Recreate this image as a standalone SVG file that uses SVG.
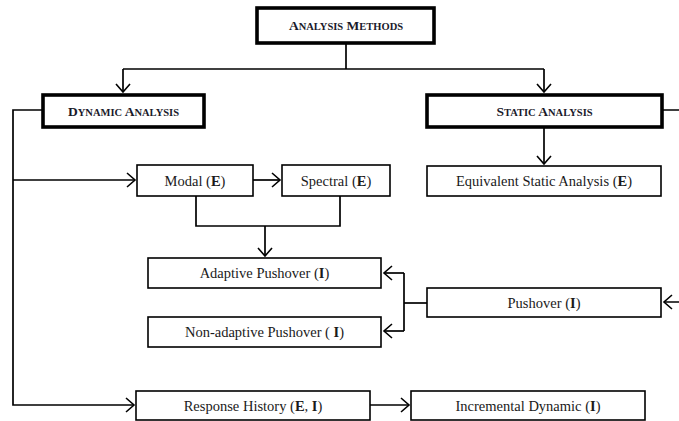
<svg xmlns="http://www.w3.org/2000/svg" width="679" height="421" viewBox="0 0 679 421">
<style>
.bg{fill:#ffffff}
.thick{fill:#ffffff;stroke:#000;stroke-width:3.6}
.box{fill:#ffffff;stroke:#000;stroke-width:1.6}
.ln{fill:none;stroke:#000;stroke-width:1.7}
.hd{font-family:"Liberation Serif","Times New Roman",serif;font-weight:bold;fill:#1a1a2a;text-anchor:middle;font-size:13.5px}
.hd .s{font-size:10.5px}
.lb{font-family:"Liberation Serif","Times New Roman",serif;fill:#1a1a1a;text-anchor:middle;font-size:14.5px}
.lb .b{font-weight:bold}
</style>
<defs>
<marker id="arr" markerUnits="userSpaceOnUse" markerWidth="12" markerHeight="16" refX="9" refY="7.5" orient="auto" overflow="visible">
<path d="M1,0.5 L9,7.5 L1,14.5" fill="none" stroke="#000" stroke-width="1.6"/>
</marker>
</defs>
<rect class="bg" x="0" y="0" width="679" height="421"/>

<g id="connectors">
<path class="ln" d="M346,43 V69"/>
<path class="ln" d="M123,69 H544"/>
<path class="ln" d="M123,69 V92" marker-end="url(#arr)"/>
<path class="ln" d="M544,69 V92" marker-end="url(#arr)"/>
<path class="ln" d="M43,110 H13 V405 H134" marker-end="url(#arr)"/>
<path class="ln" d="M13,180 H135" marker-end="url(#arr)"/>
<path class="ln" d="M253,180 H280" marker-end="url(#arr)"/>
<path class="ln" d="M544,127 V164" marker-end="url(#arr)"/>
<path class="ln" d="M196,196 V226 H340 V196"/>
<path class="ln" d="M265,226 V256" marker-end="url(#arr)"/>
<path class="ln" d="M427,303 H404"/>
<path class="ln" d="M404,273 V331"/>
<path class="ln" d="M404,273 H384" marker-end="url(#arr)"/>
<path class="ln" d="M404,331 H384" marker-end="url(#arr)"/>
<path class="ln" d="M662,110 H692 V302 H664" marker-end="url(#arr)"/>
<path class="ln" d="M370,405 H409" marker-end="url(#arr)"/>
</g>

<g id="analysis-methods">
<rect class="thick" x="257" y="8" width="177" height="35"/>
<text class="hd" x="346" y="30">A<tspan class="s">NALYSIS</tspan> M<tspan class="s">ETHODS</tspan></text>
</g>

<g id="dynamic-analysis">
<rect class="thick" x="43" y="95" width="161" height="32"/>
<text class="hd" x="123.5" y="115.5">D<tspan class="s">YNAMIC</tspan> A<tspan class="s">NALYSIS</tspan></text>
</g>

<g id="static-analysis">
<rect class="thick" x="427" y="95" width="235" height="32"/>
<text class="hd" x="544.5" y="115.5">S<tspan class="s">TATIC</tspan> A<tspan class="s">NALYSIS</tspan></text>
</g>

<g id="modal">
<rect class="box" x="137" y="165" width="116" height="31"/>
<text class="lb" x="195" y="185.5">Modal (<tspan class="b">E</tspan>)</text>
</g>

<g id="spectral">
<rect class="box" x="282" y="165" width="108" height="31"/>
<text class="lb" x="336" y="185.5">Spectral (<tspan class="b">E</tspan>)</text>
</g>

<g id="equivalent-static">
<rect class="box" x="427" y="166" width="234" height="30"/>
<text class="lb" x="544" y="186">Equivalent Static Analysis (<tspan class="b">E</tspan>)</text>
</g>

<g id="adaptive-pushover">
<rect class="box" x="148" y="258" width="233" height="30"/>
<text class="lb" x="264.5" y="278">Adaptive Pushover (<tspan class="b">I</tspan>)</text>
</g>

<g id="non-adaptive-pushover">
<rect class="box" x="148" y="317" width="233" height="30"/>
<text class="lb" x="264.5" y="337">Non-adaptive Pushover ( <tspan class="b">I</tspan>)</text>
</g>

<g id="pushover">
<rect class="box" x="427" y="288" width="234" height="29"/>
<text class="lb" x="544" y="307.5">Pushover (<tspan class="b">I</tspan>)</text>
</g>

<g id="response-history">
<rect class="box" x="136" y="391" width="234" height="29"/>
<text class="lb" x="253" y="410.5">Response History (<tspan class="b">E</tspan>, <tspan class="b">I</tspan>)</text>
</g>

<g id="incremental-dynamic">
<rect class="box" x="411" y="391" width="234" height="29"/>
<text class="lb" x="528" y="410.5">Incremental Dynamic (<tspan class="b">I</tspan>)</text>
</g>
</svg>
